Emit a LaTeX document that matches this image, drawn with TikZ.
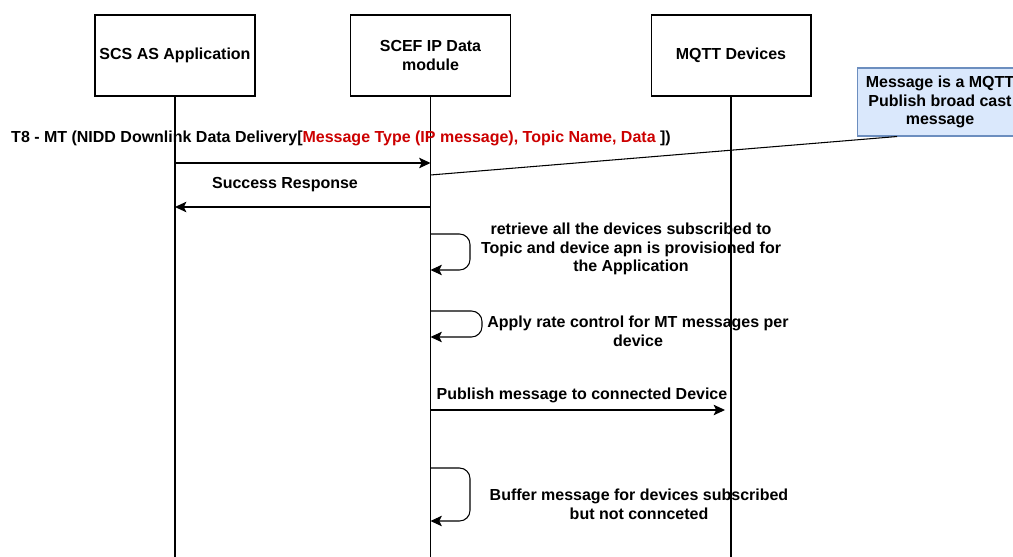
\documentclass[tikz,border=0pt]{standalone}
\usepackage{fontspec}
\setmainfont{Liberation Sans}
\usetikzlibrary{arrows.meta}
\definecolor{notefill}{HTML}{DAE8FC}
\definecolor{noteline}{HTML}{6C8EBF}
\definecolor{msgred}{HTML}{CC0000}

\begin{document}
\begin{tikzpicture}[x=0.02cm,y=-0.02cm,line width=0.6pt,
  font=\bfseries\fontsize{9.1}{10.6}\selectfont,
  actor/.style={draw,minimum width=3.2cm,minimum height=1.62cm,align=center,inner sep=1pt},
  note/.style={draw=noteline,fill=notefill,minimum width=3.3cm,minimum height=1.36cm,align=center,inner sep=1pt},
  msg/.style={-{Stealth[length=6.5pt,width=6pt,inset=1.5pt]}},
  loop/.style={msg,rounded corners=6pt},
  lbl/.style={align=center,inner sep=0pt}]
\useasboundingbox (0,0) rectangle (1013,557);

% participants
\node[actor] (scs) at (175,55.5) {SCS AS Application};
\node[actor] (scef) at (430.5,55.5) {SCEF IP Data\\module};
\node[actor] (mqtt) at (731,55.5) {MQTT Devices};

% lifelines
\coordinate (scsend) at (175,557);
\coordinate (scefend) at (430.5,557);
\coordinate (mqttend) at (731,557);
\draw (scs.south) -- (scsend);
\draw (scef.south) -- (scefend);
\draw (mqtt.south) -- (mqttend);

% note
\node[note] (mqttnote) at (940,102) {Message is a MQTT\\Publish broad cast\\message};
\coordinate (notetip) at (430.5,175);
\draw ([xshift=-0.86cm]mqttnote.south) -- (notetip);

% T8 - MT
\node[lbl] (t8) at (341,138) {T8 - MT (NIDD Downlink Data Delivery[\textcolor{msgred}{Message Type (IP message), Topic Name, Data }])};
\coordinate (t8a) at (175,163);
\coordinate (t8b) at (430.5,163);
\draw[msg] (t8a) -- (t8b);

% success
\node[lbl] (succ) at (285,185) {Success Response};
\coordinate (succa) at (430.5,207);
\coordinate (succb) at (175,207);
\draw[msg] (succa) -- (succb);

% retrieve
\coordinate (reta) at (430.5,234);
\coordinate (retb) at (430.5,270);
\draw[loop] (reta) -- (470,234) -- (470,270) -- (retb);
\node[lbl] (ret) at (631,249) {retrieve all the devices subscribed to\\Topic and device apn is provisioned for\\the Application};

% rate control
\coordinate (ratea) at (430.5,311);
\coordinate (rateb) at (430.5,337);
\draw[loop] (ratea) -- (482,311) -- (482,337) -- (rateb);
\node[lbl] (rate) at (638,331) {Apply rate control for MT messages per\\device};

% publish
\node[lbl] (pub) at (582,395) {Publish message to connected Device};
\coordinate (puba) at (430.5,410);
\coordinate (pubb) at (725,410);
\draw[msg] (puba) -- (pubb);

% buffer
\coordinate (bufa) at (430.5,468);
\coordinate (bufb) at (430.5,521);
\draw[loop] (bufa) -- (470,468) -- (470,521) -- (bufb);
\node[lbl] (buf) at (639,504) {Buffer message for devices subscribed\\but not connceted};
\end{tikzpicture}
\end{document}
